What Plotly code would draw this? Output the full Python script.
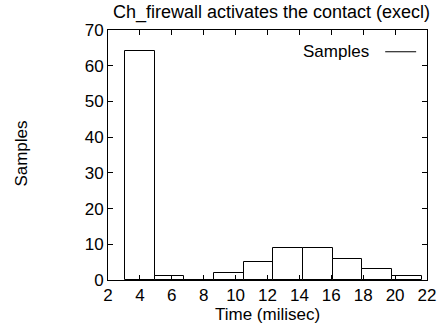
import plotly.graph_objects as go

bin_centers = [4.0, 5.86, 7.72, 9.58, 11.44, 13.30, 15.16, 17.02, 18.88, 20.74]
counts = [64, 1, 0, 2, 5, 9, 9, 6, 3, 1]
bin_width = 1.86
x_ticks = [2, 4, 6, 8, 10, 12, 14, 16, 18, 20, 22]
y_ticks = [0, 10, 20, 30, 40, 50, 60, 70]

FS = 17
font = dict(family="Liberation Sans, Arial, sans-serif", size=FS, color="black")
title_font = dict(family="Liberation Sans, Arial, sans-serif", size=18, color="black")

fig = go.Figure()
fig.add_trace(go.Bar(
    x=bin_centers, y=counts, width=bin_width,
    marker=dict(color="white", line=dict(color="black", width=1)),
    showlegend=False,
))

fig.update_layout(
    width=448, height=330,
    margin=dict(l=108, r=13, t=30, b=50),
    paper_bgcolor="white", plot_bgcolor="white",
    font=font,
    title=dict(text="Ch_firewall activates the contact (execl)", x=(108 + 435) / 2 / 448,
               xanchor="center", y=1 - 12 / 330, yanchor="middle", font=title_font),
    bargap=0,
    xaxis=dict(range=[2, 22], tickvals=x_ticks, ticks="inside", ticklen=5,
               showline=True, linecolor="black", linewidth=1, mirror="ticks",
               showgrid=False, zeroline=False, tickcolor="black", tickfont=font),
    yaxis=dict(range=[0, 70], tickvals=y_ticks, ticks="inside", ticklen=5,
               showline=True, linecolor="black", linewidth=1, mirror="ticks",
               showgrid=False, zeroline=False, tickcolor="black", tickfont=font),
    annotations=[
        dict(text="Samples", xref="paper", yref="paper", x=-0.274, y=0.504,
             textangle=-90, showarrow=False, xanchor="center", yanchor="middle", font=font),
        dict(text="Time (milisec)", xref="paper", yref="paper", x=0.5, y=-0.136,
             showarrow=False, xanchor="center", yanchor="middle", font=font),
        dict(text="Samples", xref="paper", yref="paper", x=0.826, y=0.913,
             showarrow=False, xanchor="right", yanchor="middle", font=font),
    ],
    shapes=[
        dict(type="line", xref="paper", yref="paper", x0=0.869, x1=0.966, y0=0.913, y1=0.913,
             line=dict(color="black", width=1)),
    ],
)

fig.write_html("out.html")
